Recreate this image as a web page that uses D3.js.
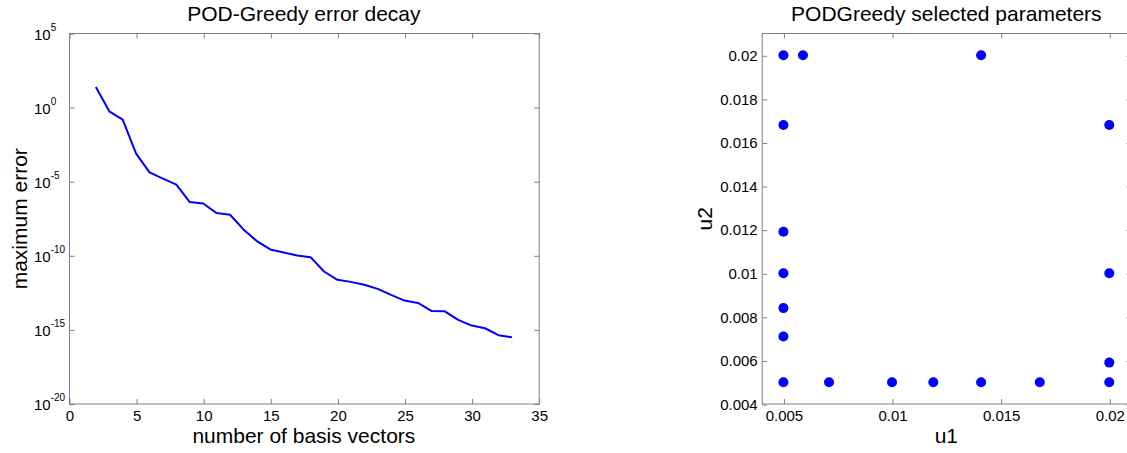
<!DOCTYPE html>
<html>
<head>
<meta charset="utf-8">
<script src="https://cdn.jsdelivr.net/npm/d3@7"></script>
<style>
  html, body { margin: 0; padding: 0; background: #fff; }
  svg { display: block; font-family: "Liberation Sans", Arial, sans-serif; }
</style>
</head>
<body>
<svg id="chart" width="1127" height="453"></svg>
<script>
// ---------------- data ----------------
const nBasis = [2, 3, 4, 5, 6, 7, 8, 9, 10, 11, 12, 13, 14, 15, 16, 17,
                18, 19, 20, 21, 22, 23, 24, 25, 26, 27, 28, 29, 30, 31, 32, 33];
const maxError = [24.5, 0.56, 0.155, 7.8e-4, 4.3e-5, 1.6e-5, 6.3e-6, 4.2e-7,
                  3.4e-7, 7.6e-8, 5.9e-8, 6.0e-9, 9.8e-10, 2.7e-10, 1.66e-10, 1.05e-10,
                  8.1e-11, 8.7e-12, 2.4e-12, 1.74e-12, 1.10e-12, 5.9e-13, 2.3e-13, 9.5e-14,
                  6.6e-14, 1.9e-14, 1.8e-14, 4.8e-15, 1.95e-15, 1.29e-15, 4.4e-16, 3.2e-16];

const u1 = [0.005, 0.005, 0.005, 0.005, 0.005, 0.005, 0.005,
            0.0059, 0.0141, 0.0141,
            0.02, 0.02, 0.02, 0.02,
            0.0071, 0.01, 0.0119, 0.0168];
const u2 = [0.02, 0.0168, 0.0119, 0.01, 0.0084, 0.0071, 0.005,
            0.02, 0.02, 0.005,
            0.0168, 0.01, 0.0059, 0.005,
            0.005, 0.005, 0.005, 0.005];

const errTicks = [1e5, 1e0, 1e-5, 1e-10, 1e-15, 1e-20];
const errTickExp = ["5", "0", "-5", "-10", "-15", "-20"];
const nTicks = [0, 5, 10, 15, 20, 25, 30, 35];
const u1Ticks = [0.005, 0.01, 0.015, 0.02];
const u1TickLabels = ["0.005", "0.01", "0.015", "0.02"];
const u2Ticks = [0.004, 0.006, 0.008, 0.01, 0.012, 0.014, 0.016, 0.018, 0.02];
const u2TickLabels = ["0.004", "0.006", "0.008", "0.01", "0.012", "0.014", "0.016", "0.018", "0.02"];

const title1 = "POD-Greedy error decay";
const title2 = "PODGreedy selected parameters";

// ---------------- layout ----------------
const svg = d3.select("#chart");
const AX = "#7f7f7f";
const BLUE = "#0000ff";
const TICK_FS = 15, TITLE_FS = 21, LABEL_FS = 21;

const plotTop = 33.5, plotBottom = 404;
const L = { left: 69, right: 538.7 };
const R = { left: 761.7, right: 1131 };

// ---------------- left plot ----------------
const x1 = d3.scaleLinear().domain([0, 35]).range([L.left, L.right]);
const y1 = d3.scaleLog().domain([1e-20, 1e5]).range([plotBottom, plotTop]);

function styleAxis(g) {
  g.select(".domain").remove();
  g.selectAll(".tick line").attr("stroke", AX);
  g.selectAll(".tick text").attr("fill", "#000").attr("font-size", TICK_FS)
    .attr("font-family", "Liberation Sans, Arial, sans-serif");
}

function frame(l, r) {
  svg.append("rect")
    .attr("x", l + 0.5).attr("y", plotTop)
    .attr("width", r - l).attr("height", plotBottom - plotTop)
    .attr("fill", "none").attr("stroke", AX).attr("stroke-width", 1);
}

frame(L.left, L.right);

// bottom axis
svg.append("g").attr("transform", `translate(0.5,${plotBottom})`)
  .call(d3.axisBottom(x1).tickValues(nTicks).tickFormat(d3.format("d"))
    .tickSizeInner(-5).tickSizeOuter(0).tickPadding(6.5))
  .call(styleAxis);
// top mirror
svg.append("g").attr("transform", `translate(0.5,${plotTop})`)
  .call(d3.axisTop(x1).tickValues(nTicks).tickFormat("")
    .tickSizeInner(-5).tickSizeOuter(0))
  .call(styleAxis);
// left axis (custom superscript labels)
const gy1 = svg.append("g").attr("transform", `translate(${L.left + 0.5},0)`)
  .call(d3.axisLeft(y1).tickValues(errTicks).tickFormat("")
    .tickSizeInner(-5).tickSizeOuter(0))
  .call(styleAxis);
gy1.selectAll(".tick text").remove();
gy1.selectAll(".tick").each(function(d, i) {
  const t = d3.select(this).append("text")
    .attr("x", -35.5).attr("y", 0).attr("dy", "0.38em")
    .attr("text-anchor", "start").attr("fill", "#000")
    .attr("font-size", TICK_FS)
    .text("10");
  t.append("tspan").attr("dy", -9).attr("font-size", 10).text(errTickExp[i]);
});
// right mirror
svg.append("g").attr("transform", `translate(${L.right + 0.5},0)`)
  .call(d3.axisRight(y1).tickValues(errTicks).tickFormat("")
    .tickSizeInner(-5).tickSizeOuter(0))
  .call(styleAxis);

// line
svg.append("path")
  .datum(nBasis.map((n, i) => [n, maxError[i]]))
  .attr("fill", "none").attr("stroke", BLUE).attr("stroke-width", 2)
  .attr("stroke-linejoin", "round")
  .attr("d", d3.line().x(d => x1(d[0])).y(d => y1(d[1])));

// titles & labels
svg.append("text").attr("x", (L.left + L.right) / 2).attr("y", 21)
  .attr("text-anchor", "middle").attr("font-size", TITLE_FS).text(title1);
svg.append("text").attr("x", (L.left + L.right) / 2).attr("y", 443)
  .attr("text-anchor", "middle").attr("font-size", LABEL_FS).text("number of basis vectors");
svg.append("text").attr("transform", `translate(27,${(plotTop + plotBottom) / 2}) rotate(-90)`)
  .attr("text-anchor", "middle").attr("font-size", LABEL_FS).text("maximum error");

// ---------------- right plot ----------------
const x2 = d3.scaleLinear().domain([0.004, 0.021]).range([R.left, R.right]);
const y2 = d3.scaleLinear().domain([0.004, 0.021]).range([plotBottom, plotTop]);

frame(R.left, R.right);

svg.append("g").attr("transform", `translate(0.5,${plotBottom})`)
  .call(d3.axisBottom(x2).tickValues(u1Ticks).tickFormat((d, i) => u1TickLabels[i])
    .tickSizeInner(-5).tickSizeOuter(0).tickPadding(6.5))
  .call(styleAxis);
svg.append("g").attr("transform", `translate(0.5,${plotTop})`)
  .call(d3.axisTop(x2).tickValues(u1Ticks).tickFormat("")
    .tickSizeInner(-5).tickSizeOuter(0))
  .call(styleAxis);
svg.append("g").attr("transform", `translate(${R.left + 0.5},0.5)`)
  .call(d3.axisLeft(y2).tickValues(u2Ticks).tickFormat((d, i) => u2TickLabels[i])
    .tickSizeInner(-5).tickSizeOuter(0).tickPadding(4.5))
  .call(styleAxis);
svg.append("g").attr("transform", `translate(${R.right + 0.5},0.5)`)
  .call(d3.axisRight(y2).tickValues(u2Ticks).tickFormat("")
    .tickSizeInner(-5).tickSizeOuter(0))
  .call(styleAxis);

svg.append("g").selectAll("circle")
  .data(u1.map((u, i) => [u, u2[i]]))
  .join("circle")
  .attr("cx", d => x2(d[0])).attr("cy", d => y2(d[1]))
  .attr("r", 5).attr("fill", BLUE);

svg.append("text").attr("x", (R.left + R.right) / 2).attr("y", 21)
  .attr("text-anchor", "middle").attr("font-size", TITLE_FS).text(title2);
svg.append("text").attr("x", (R.left + R.right) / 2).attr("y", 443)
  .attr("text-anchor", "middle").attr("font-size", LABEL_FS).text("u1");
svg.append("text").attr("transform", `translate(712,${(plotTop + plotBottom) / 2}) rotate(-90)`)
  .attr("text-anchor", "middle").attr("font-size", LABEL_FS).text("u2");
</script>
</body>
</html>
